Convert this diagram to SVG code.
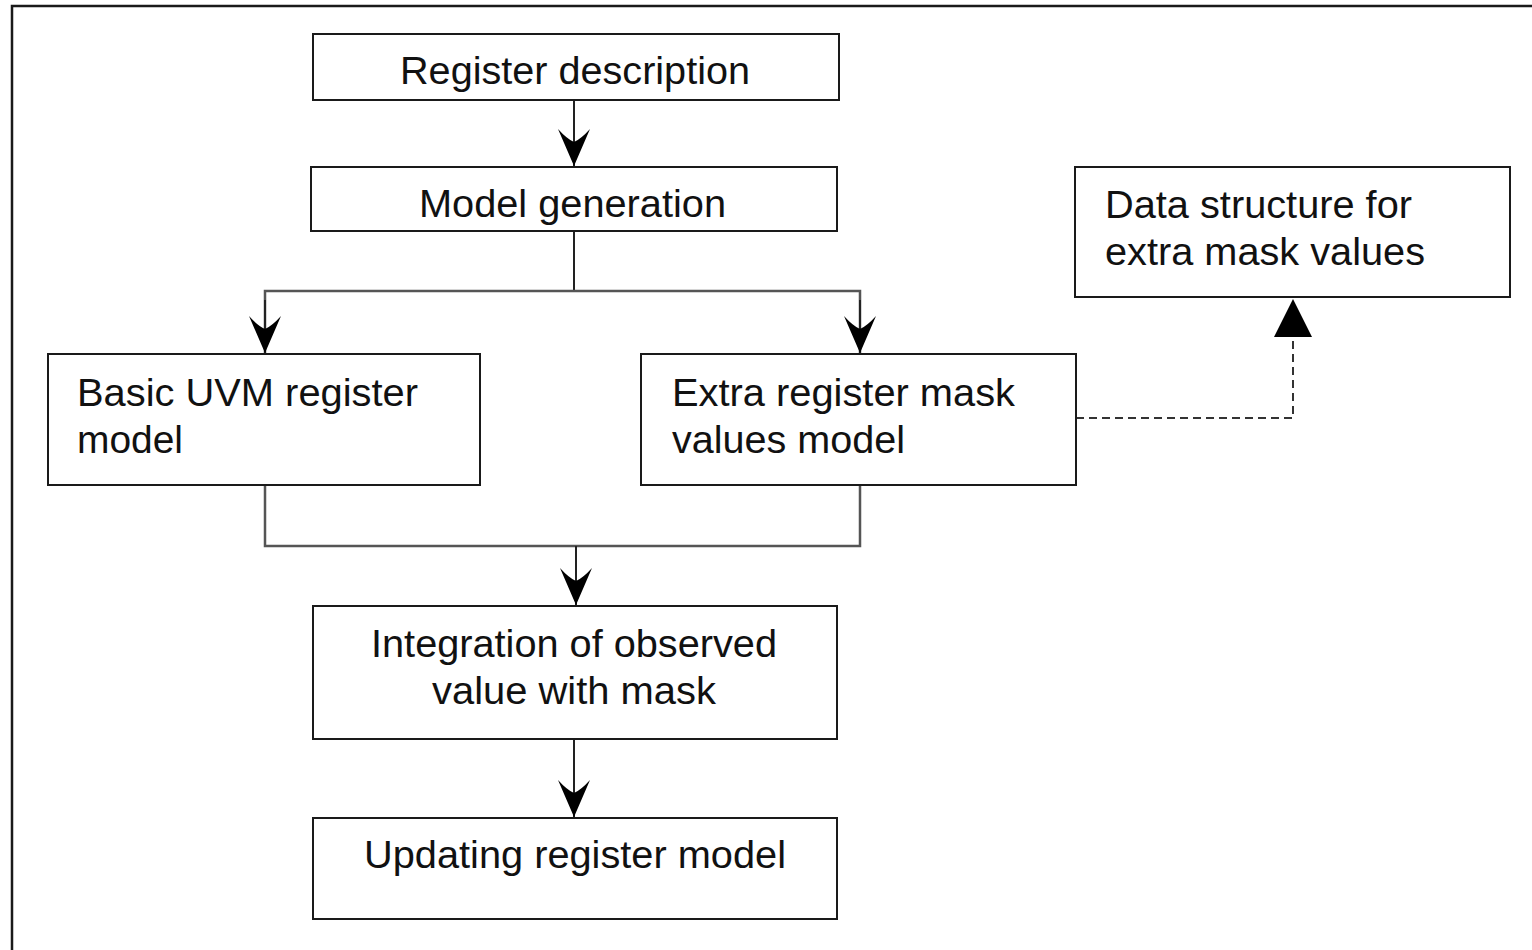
<svg xmlns="http://www.w3.org/2000/svg" width="1532" height="950" viewBox="0 0 1532 950">
  <style>
    .box { fill: #ffffff; stroke: #1a1a1a; stroke-width: 2; }
    .lbl { font-family: "Liberation Sans", Arial, sans-serif; font-size: 38px; fill: #111111; }
    .flow { fill: none; stroke: #222222; stroke-width: 2; }
    .branch { fill: none; stroke: #555555; stroke-width: 2.5; }
    .dash { fill: none; stroke: #333333; stroke-width: 2; stroke-dasharray: 8 5; }
  </style>
  <defs>
    <marker id="notch" viewBox="0 0 37 32" refX="37" refY="16" markerWidth="37" markerHeight="32" markerUnits="userSpaceOnUse" orient="auto">
      <path d="M37,16 L0,0 Q10,9 13,16 Q10,23 0,32 Z" fill="#000000"/>
    </marker>
    <marker id="tri" viewBox="0 0 38 38" refX="38" refY="19" markerWidth="38" markerHeight="38" markerUnits="userSpaceOnUse" orient="auto">
      <path d="M38,19 L0,0 L0,38 Z" fill="#000000"/>
    </marker>
  </defs>

  <rect width="1532" height="950" fill="#ffffff"/>
  <!-- outer frame -->
  <path d="M12,950 V6 H1532" fill="none" stroke="#1a1a1a" stroke-width="2.5"/>

  <g id="connectors">
    <line class="flow" x1="574" y1="100" x2="574" y2="166" marker-end="url(#notch)"/>
    <line class="flow" x1="574" y1="231" x2="574" y2="291"/>
    <path class="branch" d="M265,353 V291 H860 V353"/>
    <line class="flow" x1="265" y1="300" x2="265" y2="353" marker-end="url(#notch)"/>
    <line class="flow" x1="860" y1="300" x2="860" y2="353" marker-end="url(#notch)"/>
    <path class="branch" d="M265,485 V546 H860 V485"/>
    <line class="flow" x1="576" y1="546" x2="576" y2="605" marker-end="url(#notch)"/>
    <line class="flow" x1="574" y1="739" x2="574" y2="817" marker-end="url(#notch)"/>
    <path class="dash" d="M1076,418 H1293 V340"/>
    <line x1="1293" y1="340" x2="1293" y2="299" stroke="none" marker-end="url(#tri)"/>
  </g>

  <g id="register-description">
    <rect class="box" x="313" y="34" width="526" height="66"/>
    <text class="lbl" x="400" y="84" textLength="350" lengthAdjust="spacingAndGlyphs">Register description</text>
  </g>
  <g id="model-generation">
    <rect class="box" x="311" y="167" width="526" height="64"/>
    <text class="lbl" x="419" y="217" textLength="307" lengthAdjust="spacingAndGlyphs">Model generation</text>
  </g>
  <g id="data-structure">
    <rect class="box" x="1075" y="167" width="435" height="130"/>
    <text class="lbl" x="1105" y="218" textLength="307" lengthAdjust="spacingAndGlyphs">Data structure for</text>
    <text class="lbl" x="1105" y="265" textLength="320" lengthAdjust="spacingAndGlyphs">extra mask values</text>
  </g>
  <g id="basic-uvm-model">
    <rect class="box" x="48" y="354" width="432" height="131"/>
    <text class="lbl" x="77" y="406" textLength="341" lengthAdjust="spacingAndGlyphs">Basic UVM register</text>
    <text class="lbl" x="77" y="453" textLength="106" lengthAdjust="spacingAndGlyphs">model</text>
  </g>
  <g id="extra-mask-model">
    <rect class="box" x="641" y="354" width="435" height="131"/>
    <text class="lbl" x="672" y="406" textLength="343" lengthAdjust="spacingAndGlyphs">Extra register mask</text>
    <text class="lbl" x="672" y="453" textLength="233" lengthAdjust="spacingAndGlyphs">values model</text>
  </g>
  <g id="integration">
    <rect class="box" x="313" y="606" width="524" height="133"/>
    <text class="lbl" x="371" y="657" textLength="406" lengthAdjust="spacingAndGlyphs">Integration of observed</text>
    <text class="lbl" x="432" y="704" textLength="284" lengthAdjust="spacingAndGlyphs">value with mask</text>
  </g>
  <g id="updating-model">
    <rect class="box" x="313" y="818" width="524" height="101"/>
    <text class="lbl" x="364" y="868" textLength="422" lengthAdjust="spacingAndGlyphs">Updating register model</text>
  </g>
</svg>
